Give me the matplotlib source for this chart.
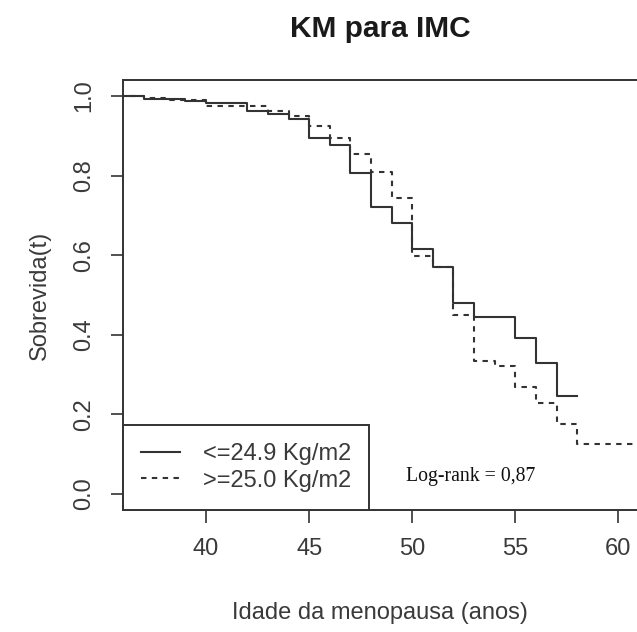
import matplotlib
matplotlib.use('Agg')
import matplotlib.pyplot as plt

# ---- data ----
solid_label = "<=24.9 Kg/m2"
solid_times = [37, 39, 40, 42, 43, 44, 45, 46, 47, 48, 49, 50, 51, 52, 53, 55, 56, 57]
solid_surv = [0.992, 0.987, 0.981, 0.961, 0.954, 0.941, 0.894, 0.877, 0.807,
              0.720, 0.680, 0.615, 0.571, 0.479, 0.444, 0.393, 0.330, 0.246]
solid_end = 58

dashed_label = ">=25.0 Kg/m2"
dashed_times = [37, 38, 40, 43, 44, 45, 46, 47, 48, 49, 50, 51, 52, 53, 54, 55, 56, 57, 58]
dashed_surv = [0.996, 0.990, 0.975, 0.961, 0.950, 0.925, 0.894, 0.853, 0.810,
               0.743, 0.598, 0.571, 0.450, 0.335, 0.322, 0.270, 0.228, 0.176, 0.127]
dashed_end = 62

start_time = 30
x_ticks = [40, 45, 50, 55, 60]
y_ticks = [0.0, 0.2, 0.4, 0.6, 0.8, 1.0]

title = "KM para IMC"
xlabel = "Idade da menopausa (anos)"
ylabel = "Sobrevida(t)"
annot = "Log-rank = 0,87"

# ---- drawing ----
W, H = 637, 632
fig = plt.figure(figsize=(W / 100, H / 100), dpi=100)
fig.patch.set_facecolor('white')
ax = fig.add_axes([123 / W, 122 / H, 517 / W, 430 / H])

ink = '#333333'
txt = '#3a3a3a'
sans = ['Liberation Sans', 'DejaVu Sans']
serif = ['Liberation Serif', 'DejaVu Serif']


def km_xy(times, surv, end):
    xs = [start_time] + list(times) + [end]
    ys = [1.0] + list(surv) + [surv[-1]]
    return xs, ys


xs, ys = km_xy(solid_times, solid_surv, solid_end)
ax.step(xs, ys, where='post', color=ink, lw=1.5, label=solid_label)
xs, ys = km_xy(dashed_times, dashed_surv, dashed_end)
ax.step(xs, ys, where='post', color=ink, lw=1.5, linestyle=(0, (2.6, 2.6)),
        label=dashed_label)

ax.set_xlim(35.97, 61.05)
ax.set_ylim(-0.04, 1.04)
ax.set_xticks(x_ticks)
ax.set_xticklabels([str(v) for v in x_ticks], fontfamily=sans)
ax.set_yticks(y_ticks)
ax.set_yticklabels([f"{v:.1f}" for v in y_ticks], fontfamily=sans,
                   rotation=90, va='center')
ax.tick_params(direction='out', length=9, width=1.2, color=ink,
               labelsize=17, labelcolor=txt, pad=11)
for s in ax.spines.values():
    s.set_color(ink)
    s.set_linewidth(1.4)

leg = ax.legend(loc='lower left', bbox_to_anchor=(0, 0), borderaxespad=0,
                frameon=True, fancybox=False, shadow=False,
                prop={'family': sans, 'size': 17},
                handlelength=1.65, handletextpad=0.95, borderpad=0.78,
                labelspacing=0.18)
leg.get_frame().set_edgecolor(ink)
leg.get_frame().set_linewidth(1.4)
leg.get_frame().set_alpha(1)
for t in leg.get_texts():
    t.set_color(txt)

ax.text(49.7, 0.043, annot, ha='left', va='center', fontsize=14.2,
        family=serif, color='#111111')

fig.text(380 / W, 1 - 37 / H, title, ha='center', va='baseline',
         fontsize=21.5, fontweight='bold', family=sans, color='#1a1a1a')
fig.text(380 / W, 1 - 618.5 / H, xlabel, ha='center', va='baseline',
         fontsize=17, family=sans, color=txt)
fig.text(40 / W, 1 - 295 / H, ylabel, ha='center', va='center', rotation=90,
         fontsize=17, family=sans, color=txt)

fig.savefig('out.png', dpi=100, facecolor='white')
